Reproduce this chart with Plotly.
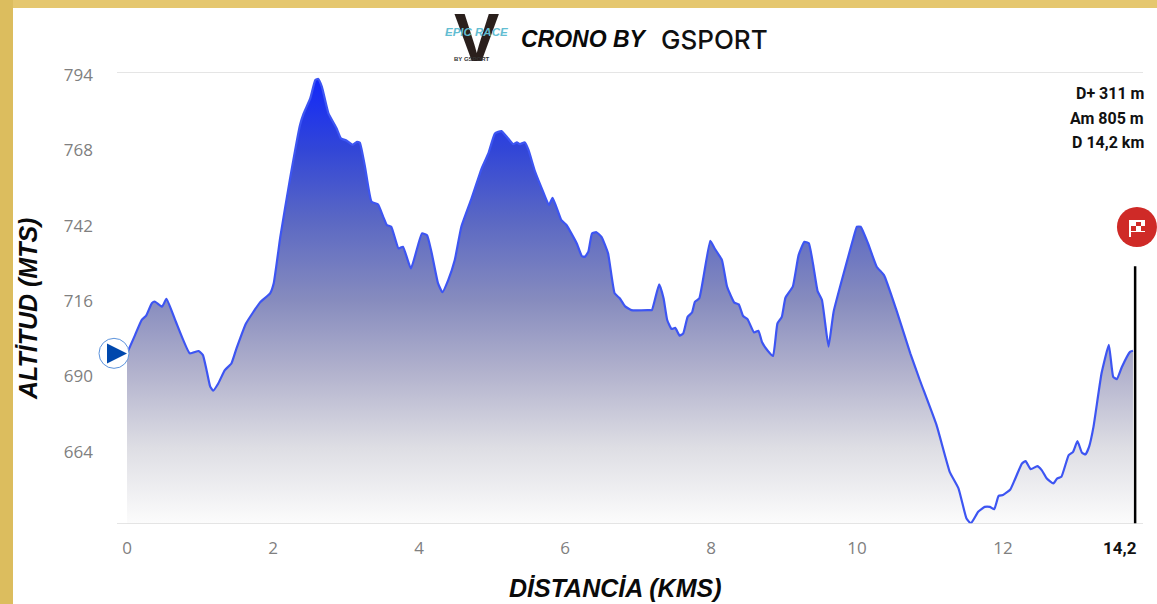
import plotly.graph_objects as go

distance_km = [0.00,0.11,0.20,0.26,0.34,0.38,0.48,0.54,0.66,0.86,0.98,1.04,1.09,1.14,1.18,1.25,1.34,1.43,1.50,1.63,1.82,1.96,2.01,2.10,2.23,2.37,2.42,2.51,2.58,2.62,2.67,2.76,2.87,2.93,3.01,3.09,3.15,3.19,3.26,3.35,3.44,3.51,3.56,3.62,3.72,3.78,3.89,4.04,4.11,4.17,4.26,4.32,4.40,4.49,4.58,4.72,4.86,4.95,5.04,5.13,5.22,5.29,5.34,5.38,5.45,5.50,5.59,5.70,5.78,5.83,5.95,6.02,6.16,6.23,6.27,6.32,6.37,6.43,6.50,6.59,6.68,6.75,6.82,6.91,7.16,7.19,7.29,7.35,7.40,7.46,7.51,7.57,7.62,7.68,7.74,7.78,7.84,7.99,8.05,8.15,8.22,8.32,8.38,8.44,8.50,8.59,8.65,8.70,8.78,8.85,8.91,8.97,9.02,9.12,9.20,9.28,9.34,9.40,9.46,9.52,9.61,9.68,9.95,10.00,10.05,10.15,10.27,10.37,10.54,10.73,10.86,11.09,11.27,11.39,11.50,11.56,11.66,11.75,11.82,11.88,11.94,12.00,12.10,12.16,12.26,12.31,12.38,12.47,12.53,12.60,12.69,12.74,12.80,12.90,12.96,13.02,13.08,13.13,13.18,13.24,13.35,13.45,13.51,13.56,13.63,13.74,13.78]
altitude_m = [696.9,703.2,708.4,709.8,714.2,714.8,713.0,715.7,708.4,696.9,697.7,696.3,691.1,685.4,684.0,686.5,691.1,693.4,698.6,707.2,714.4,717.6,721.1,737.1,756.7,775.7,779.7,784.9,791.2,791.6,788.9,779.7,774.6,771.1,770.3,768.9,769.9,769.6,761.3,749.2,748.3,744.0,741.2,740.6,733.1,733.7,726.2,738.3,737.7,732.0,721.1,718.0,722.2,729.1,740.6,750.4,760.8,765.9,772.8,773.6,771.1,769.1,769.7,769.1,769.7,767.1,759.6,752.7,748.1,750.6,742.9,741.2,734.9,730.5,730.2,732.0,738.3,738.7,737.1,731.4,717.6,715.9,713.2,711.8,711.8,711.8,720.7,715.9,708.4,705.3,705.7,703.0,703.8,709.5,711.0,714.7,715.9,735.7,733.1,729.1,719.9,714.4,713.8,709.8,708.7,704.1,704.7,700.7,697.7,696.0,707.2,709.5,716.1,719.9,730.8,735.4,734.9,727.4,718.4,715.3,699.2,711.3,736.6,740.6,740.6,734.9,726.8,723.9,711.8,696.9,687.7,672.1,656.0,650.3,639.9,638.2,642.2,643.9,643.9,643.1,647.7,648.0,649.9,653.2,658.9,659.7,656.9,658.0,656.6,653.7,652.0,653.7,654.3,661.8,662.9,666.6,662.7,662.0,664.7,671.6,690.0,699.8,688.8,688.0,692.3,697.4,697.8]

y_ticks = [664, 690, 716, 742, 768, 794]
x_ticks = [0, 2, 4, 6, 8, 10, 12]
base_alt = 638
top_alt = 794
end_label = "14,2"
stats = ["D+ 311 m", "Am 805 m", "D 14,2 km"]
x_title = "DİSTANCİA (KMS)"
y_title = "ALTİTUD (MTS)"
start_km, start_alt = -0.178, 696.9
finish_km, finish_alt = 13.835, 740.5
finish_pole_km, finish_pole_top = 13.81, 727
rule_km = [-0.137, 13.918]

W, H = 1157, 604
ML, MR, MT, MB = 96, 14, 72, 80
PW, PH = W - ML - MR, H - MT - MB


def px(x):
    return (x - ML) / PW


def py(y):
    return 1 - (y - MT) / PH


def rect(x0, y0, x1, y1, color, layer="above"):
    return dict(type="rect", xref="paper", yref="paper", x0=px(x0), x1=px(x1), y0=py(y0), y1=py(y1),
                fillcolor=color, line_width=0, layer=layer)


fig = go.Figure()
fig.add_trace(go.Scatter(x=distance_km, y=[base_alt] * len(distance_km), mode="lines",
                         line=dict(width=0), hoverinfo="skip"))
fig.add_trace(go.Scatter(
    x=distance_km, y=altitude_m, mode="lines", fill="tonexty",
    fillgradient=dict(type="vertical", start=base_alt, stop=792, colorscale=[
        [0, "rgb(252,252,252)"], [0.17, "rgb(222,222,228)"], [0.34, "rgb(178,178,205)"],
        [0.5, "rgb(135,140,190)"], [0.675, "rgb(92,105,195)"], [0.84, "rgb(50,70,215)"], [1, "rgb(18,40,250)"],
    ]),
    line=dict(color="#3d55f2", width=2.2, shape="spline", smoothing=0.4),
    cliponaxis=False, hoverinfo="skip"))
fig.add_trace(go.Scatter(x=[finish_pole_km, finish_pole_km], y=[base_alt, finish_pole_top], mode="lines",
                         line=dict(color="black", width=2.5), cliponaxis=False, hoverinfo="skip"))
fig.add_trace(go.Scatter(x=[start_km], y=[start_alt], mode="markers", cliponaxis=False, hoverinfo="skip",
                         marker=dict(symbol="circle", size=30, color="white", line=dict(color="#5c93dc", width=1))))
fig.add_trace(go.Scatter(x=[finish_km], y=[finish_alt], mode="markers", cliponaxis=False, hoverinfo="skip",
                         marker=dict(symbol="circle", size=40, color="#cf2a27")))

tri = f"M {px(107)} {py(343.5)} L {px(127)} {py(353.5)} L {px(107)} {py(363.5)} Z"
shapes = [
    rect(0, 0, W, 8, "#e5c76f"),
    rect(0, 0, 13, H, "#dcbd5e"),
    dict(type="line", xref="x", yref="y", x0=rule_km[0], x1=rule_km[1], y0=top_alt, y1=top_alt,
         line=dict(color="#dddddd", width=1.5), layer="below"),
    dict(type="line", xref="x", yref="y", x0=rule_km[0], x1=rule_km[1], y0=base_alt, y1=base_alt,
         line=dict(color="#dddddd", width=1.5), layer="above"),
    dict(type="path", xref="paper", yref="paper", path=tri, fillcolor="#0048ad", line_width=0, layer="above"),
    rect(1129, 220, 1145, 232, "white"),
    rect(1129, 220, 1131, 237, "white"),
    rect(1136, 222, 1141, 226, "#cf2a27"),
    rect(1141, 226, 1145, 231, "#cf2a27"),
    rect(1131, 226, 1136, 231, "#cf2a27"),
]

ann = []
for i, s in enumerate(stats):
    ann.append(dict(x=px(1146), y=py(94 + 24 * i), xref="paper", yref="paper", xanchor="right", yanchor="middle",
                    showarrow=False, text=f"<b>{s}</b>", font=dict(family="Roboto", size=16, color="#111")))
ann.append(dict(x=px(1120), y=py(548), xref="paper", yref="paper", xanchor="center", yanchor="middle",
                showarrow=False, text=f"<b>{end_label}</b>", font=dict(family="Roboto", size=17, color="#111")))
ann.append(dict(x=px(615), y=py(588), xref="paper", yref="paper", xanchor="center", yanchor="middle",
                showarrow=False, text=f"<b><i>{x_title}</i></b>", font=dict(family="Liberation Sans", size=25, color="#0a0a0a")))
ann.append(dict(x=px(28), y=py(309), xref="paper", yref="paper", xanchor="center", yanchor="middle", textangle=-90,
                showarrow=False, text=f"<b><i>{y_title}</i></b>", font=dict(family="Liberation Sans", size=25, color="#0a0a0a")))
ann.append(dict(x=px(476), y=py(37), xref="paper", yref="paper", xanchor="center", yanchor="middle",
                showarrow=False, text="<b>V</b>", font=dict(family="Liberation Sans", size=68, color="#2a1f1c")))
ann.append(dict(x=px(476.5), y=py(32), xref="paper", yref="paper", xanchor="center", yanchor="middle",
                showarrow=False, text="<b><i>EPIC RACE</i></b>", font=dict(family="Liberation Sans", size=11.5, color="#62bdd2")))
ann.append(dict(x=px(472), y=py(58.5), xref="paper", yref="paper", xanchor="center", yanchor="middle",
                showarrow=False, text="<b>BY GSPORT</b>", font=dict(family="Liberation Sans", size=6, color="#333")))
ann.append(dict(x=px(584), y=py(39), xref="paper", yref="paper", xanchor="center", yanchor="middle",
                showarrow=False, text="<b><i>CRONO BY</i></b>", font=dict(family="Liberation Sans", size=23, color="#0a0a0a")))
ann.append(dict(x=px(714), y=py(39), xref="paper", yref="paper", xanchor="center", yanchor="middle",
                showarrow=False, text="GSPORT", font=dict(family="Inter", size=26, color="#111", weight=500)))

fig.update_layout(
    width=W, height=H, margin=dict(l=ML, r=MR, t=MT, b=MB, pad=0, autoexpand=False),
    paper_bgcolor="white", plot_bgcolor="rgba(0,0,0,0)", showlegend=False, hovermode=False,
    shapes=shapes, annotations=ann,
    xaxis=dict(range=[(ML - 127) / 73, (W - MR - 127) / 73], tickvals=x_ticks, showgrid=False, zeroline=False,
               showline=False, ticks="", ticklabelstandoff=12,
               tickfont=dict(family="Open Sans", size=17, color="#808080")),
    yaxis=dict(range=[base_alt, top_alt], tickvals=y_ticks, showgrid=False,
               zeroline=False, showline=False, ticks="", ticklabelstandoff=2, ticklabelshift=3,
               tickfont=dict(family="Open Sans", size=17, color="#808080")),
)

fig.write_html("out.html", config={"displayModeBar": False},
               post_script="document.body.style.margin='0';document.body.style.overflow='hidden';")
